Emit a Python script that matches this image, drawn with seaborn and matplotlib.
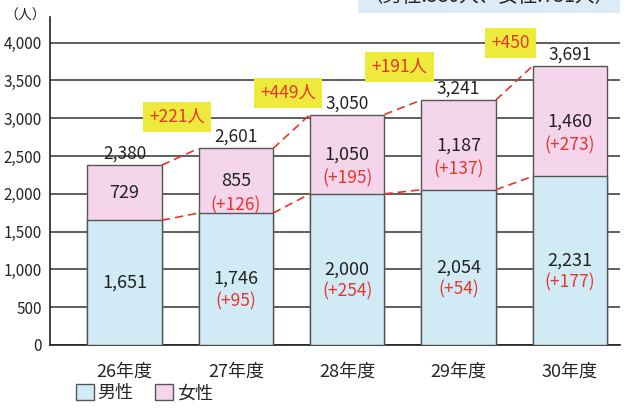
import matplotlib
matplotlib.use('Agg')
import matplotlib.pyplot as plt
import matplotlib.patches as mpatches
import seaborn as sns
import pandas as pd

# data
years = ['26年度', '27年度', '28年度', '29年度', '30年度']
male = [1651, 1746, 2000, 2054, 2231]
female = [729, 855, 1050, 1187, 1460]
totals = [2380, 2601, 3050, 3241, 3691]
male_diff = [None, 95, 254, 54, 177]
female_diff = [None, 126, 195, 137, 273]
total_diff = ['+221人', '+449人', '+191人', '+450']
total_diff_y = [3020, 3340, 3680, 4000]

MALE_C = '#d0eaf6'
FEMALE_C = '#f4d5eb'
RED = '#e8352a'
YELLOW = '#eeea3c'

sns.set_style('white')
plt.rcParams['font.family'] = ['Noto Sans CJK JP', 'DejaVu Sans']

df = pd.DataFrame({'year': years, 'male': male, 'total': totals})

fig = plt.figure(figsize=(6.27, 4.11), dpi=100)
ax = fig.add_axes([0.0797, 0.1606, 0.909, 0.798])

width = 0.67
sns.barplot(data=df, x='year', y='total', color=FEMALE_C, width=width,
            edgecolor='#555555', linewidth=1, saturation=1, ax=ax, zorder=3)
sns.barplot(data=df, x='year', y='male', color=MALE_C, width=width,
            edgecolor='#555555', linewidth=1, saturation=1, ax=ax, zorder=4)

ax.set_ylim(0, 4340)
ax.set_xlim(-0.67, 4.45)
ax.set_yticks(range(0, 4001, 500))
ax.set_yticklabels([f'{v:,}' for v in range(0, 4001, 500)], fontsize=11)
ax.yaxis.grid(True, color='#333333', linewidth=1.1, zorder=0)
ax.set_axisbelow(True)
ax.tick_params(axis='both', length=0, pad=6)
ax.tick_params(axis='x', labelsize=13, pad=13)
ax.set_xlabel('')
ax.set_ylabel('')
for s in ['top', 'right']:
    ax.spines[s].set_visible(False)
for s in ['left', 'bottom']:
    ax.spines[s].set_color('#222222')
    ax.spines[s].set_linewidth(1.2)

half = width / 2
for i in range(len(years)):
    ax.text(i, totals[i] + 150, f'{totals[i]:,}', ha='center', va='center',
            fontsize=12.5, color='#222222', zorder=6)
    fy = male[i] + female[i] / 2
    my = male[i] / 2
    if female_diff[i] is None:
        ax.text(i, fy, f'{female[i]:,}', ha='center', va='center', fontsize=13,
                color='#222222', zorder=6)
        ax.text(i, my, f'{male[i]:,}', ha='center', va='center', fontsize=13,
                color='#222222', zorder=6)
    else:
        ax.text(i, fy - 10, f'{female[i]:,}', ha='center', va='center',
                fontsize=13, color='#222222', zorder=6)
        ax.text(i, fy - 320, f'(+{female_diff[i]})', ha='center', va='center',
                fontsize=12.5, color=RED, zorder=6)
        ax.text(i, my, f'{male[i]:,}', ha='center', va='center',
                fontsize=13, color='#222222', zorder=6)
        ax.text(i, my - 290, f'(+{male_diff[i]})', ha='center', va='center',
                fontsize=12.5, color=RED, zorder=6)

# dashed connectors between bars
for i in range(len(years) - 1):
    ax.plot([i + half, i + 1 - half], [totals[i], totals[i + 1]],
            color=RED, lw=1.2, zorder=5, dashes=(5, 3))
    ax.plot([i + half, i + 1 - half], [male[i], male[i + 1]],
            color=RED, lw=1.2, zorder=5, dashes=(5, 3))
    ax.text(i + 0.47, total_diff_y[i], total_diff[i], ha='center', va='center',
            fontsize=12.5, color=RED, zorder=7,
            bbox=dict(boxstyle='square,pad=0.35', fc=YELLOW, ec='none'))

fig.text(0.04, 0.962, '（人）', ha='center', va='center', fontsize=10, color='#222222')

# note cut off at the top edge of the page
fig.text(0.78, 1.008, '（男性:580人、女性:731人）', ha='center', va='center',
         fontsize=14, color='#222222',
         bbox=dict(boxstyle='square,pad=0.3', fc='#dcebf8', ec='none'))

handles = [mpatches.Patch(facecolor=MALE_C, edgecolor='#555555', label='男性'),
           mpatches.Patch(facecolor=FEMALE_C, edgecolor='#555555', label='女性')]
fig.legend(handles=handles, loc='lower left', bbox_to_anchor=(0.095, -0.018), ncol=2,
           frameon=False, fontsize=13, handlelength=1.0, handleheight=1.0,
           handletextpad=0.2, columnspacing=1.2)

fig.savefig('out.png', dpi=100)
